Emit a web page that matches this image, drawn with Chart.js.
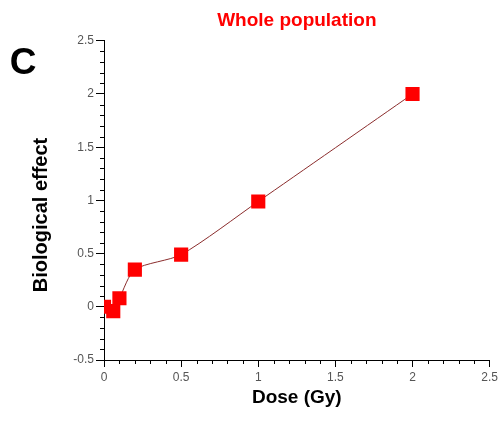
<!DOCTYPE html>
<html>
<head>
<meta charset="utf-8">
<script src="https://cdn.jsdelivr.net/npm/chart.js@4/dist/chart.umd.min.js"></script>
<style>
  html, body { margin: 0; padding: 0; background: #fff; }
  canvas { display: block; }
</style>
</head>
<body>
<canvas id="grafic" width="501" height="421"></canvas>
<script>
// Dades llegides de la figura (panell C)
const DOSES = [0, 0.06, 0.1, 0.2, 0.5, 1, 2];
const EFFECTS = [0, -0.04, 0.08, 0.35, 0.49, 0.99, 2.0];
const X_TICKS = [0, 0.5, 1, 1.5, 2, 2.5];
const Y_TICKS = [-0.5, 0, 0.5, 1, 1.5, 2, 2.5];

const FONT = '"Liberation Sans", Arial, sans-serif';

// Petites marques intermèdies (4 entre cada valor principal)
const minorTicks = {
  id: 'minorTicks',
  afterDraw(chart) {
    const ctx = chart.ctx;
    const { x, y } = chart.scales;
    ctx.save();
    ctx.strokeStyle = '#000';
    ctx.lineWidth = 1;
    ctx.beginPath();
    for (let i = 0; i < X_TICKS.length - 1; i++) {
      for (let k = 1; k < 5; k++) {
        const v = X_TICKS[i] + k * (X_TICKS[i + 1] - X_TICKS[i]) / 5;
        const px = Math.round(x.getPixelForValue(v)) + 0.5;
        ctx.moveTo(px, y.bottom);
        ctx.lineTo(px, y.bottom + 4);
      }
    }
    for (let i = 0; i < Y_TICKS.length - 1; i++) {
      for (let k = 1; k < 5; k++) {
        const v = Y_TICKS[i] + k * (Y_TICKS[i + 1] - Y_TICKS[i]) / 5;
        const py = Math.round(y.getPixelForValue(v)) + 0.5;
        ctx.moveTo(x.left, py);
        ctx.lineTo(x.left - 4, py);
      }
    }
    ctx.stroke();
    ctx.restore();
  }
};

// Lletra del panell i títol de l'eix Y (una mica per sota del centre, com l'original)
const panelText = {
  id: 'panelText',
  afterDraw(chart) {
    const ctx = chart.ctx;
    ctx.save();
    ctx.fillStyle = '#000';
    ctx.textAlign = 'center';
    ctx.textBaseline = 'middle';
    ctx.font = 'bold 37px ' + FONT;
    ctx.fillText('C', 23, 64);
    ctx.translate(41, 215);
    ctx.rotate(-Math.PI / 2);
    ctx.font = 'bold 20px ' + FONT;
    ctx.fillText('Biological effect', 0, 0);
    ctx.restore();
  }
};

const plainLabel = v => String(v);

new Chart(document.getElementById('grafic'), {
  type: 'line',
  data: {
    datasets: [{
      data: DOSES.map((d, i) => ({ x: d, y: EFFECTS[i] })),
      borderColor: '#8b2d2d',
      borderWidth: 1,
      tension: 0.25,
      pointStyle: 'rect',
      pointRadius: 10,
      pointBackgroundColor: '#ff0000',
      pointBorderColor: '#ff0000',
      pointBorderWidth: 0
    }]
  },
  options: {
    responsive: false,
    animation: false,
    layout: { padding: { left: 0, right: 11, top: 0, bottom: 0 } },
    plugins: {
      legend: { display: false },
      tooltip: { enabled: false },
      title: {
        display: true,
        text: 'Whole population',
        color: '#ff0000',
        fullSize: false,
        font: { family: FONT, size: 19, weight: 'bold' },
        padding: { top: 9, bottom: 9 }
      }
    },
    scales: {
      x: {
        type: 'linear',
        min: 0, max: 2.5,
        afterBuildTicks: s => { s.ticks = X_TICKS.map(v => ({ value: v })); },
        afterFit: s => { s.height = 61; },
        grid: { drawOnChartArea: false, tickLength: 7, tickColor: '#000' },
        border: { color: '#000', width: 1 },
        ticks: { color: '#555', padding: 3, maxRotation: 0, callback: plainLabel, font: { family: FONT, size: 12 } },
        title: {
          display: true, text: 'Dose (Gy)', color: '#000',
          font: { family: FONT, size: 19, weight: 'bold' },
          padding: { top: 0, bottom: 12 }
        }
      },
      y: {
        type: 'linear',
        min: -0.5, max: 2.5,
        afterBuildTicks: s => { s.ticks = Y_TICKS.map(v => ({ value: v })); },
        afterFit: s => { s.width = 104; },
        grid: { drawOnChartArea: false, tickLength: 8, tickColor: '#000' },
        border: { color: '#000', width: 1 },
        ticks: { color: '#555', padding: 2, callback: plainLabel, font: { family: FONT, size: 12 } },
        title: { display: false }
      }
    }
  },
  plugins: [minorTicks, panelText]
});
</script>
</body>
</html>
